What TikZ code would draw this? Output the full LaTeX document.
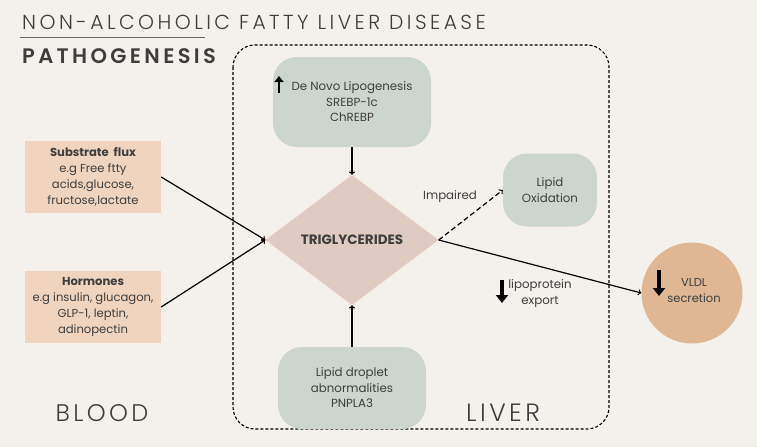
\documentclass[tikz,border=0pt]{standalone}
\usepackage{fontspec}
\setmainfont{Poppins}
\IfFontExistsTF{Poppins Light}{%
  \newfontfamily\titlefont[LetterSpace=17]{Poppins Light}%
  \newfontfamily\placefont[LetterSpace=14]{Poppins Light}}{%
  \newfontfamily\titlefont[LetterSpace=17]{Poppins}%
  \newfontfamily\placefont[LetterSpace=14]{Poppins}}
\newfontfamily\headfont[LetterSpace=16]{Poppins SemiBold}
\usepackage{tikz}
\usetikzlibrary{arrows,arrows.meta,shapes,positioning}
\definecolor{bgcream}{RGB}{244,240,235}
\definecolor{sagebox}{RGB}{205,214,206}
\definecolor{rosetri}{RGB}{223,203,194}
\definecolor{peachbox}{RGB}{240,212,190}
\definecolor{vldltan}{RGB}{224,183,148}
\definecolor{inkgray}{RGB}{62,62,62}
\tikzstyle{arrow} = [->,>=to,line width=1.2pt,color=black]
\tikzstyle{boldarrow} = [-{Triangle[length=8pt,width=12pt]},line width=3.2pt,color=black]
\tikzstyle{sagenode} = [rounded corners=24pt,fill=sagebox,align=center,inner sep=0pt,text=inkgray,font=\fontsize{11.8}{15.5}\selectfont]
\tikzstyle{peachnode} = [fill=peachbox,align=center,inner sep=0pt,minimum width=136pt,minimum height=72pt,text=inkgray,font=\fontsize{11.6}{16}\selectfont]

\begin{document}
\begin{tikzpicture}[x=1pt,y=-1pt]
% Background
\fill[bgcream] (0,0) rectangle (757,447);
\useasboundingbox (0,0) rectangle (757,447);

% Title
\node[anchor=base west, inner sep=0pt, text=inkgray, font=\titlefont\fontsize{20.3}{24}\selectfont] (title) at (22,29) {NON-ALCOHOLIC FATTY LIVER DISEASE};
\draw[inkgray!80, line width=1pt] (20,37) -- (205,37);
\node[anchor=base west, inner sep=0pt, text=inkgray, font=\headfont\fontsize{21}{24}\selectfont] (subtitle) at (22,63) {PATHOGENESIS};

% Liver compartment
\draw[dash pattern=on 3pt off 2pt, line width=1.1pt, rounded corners=22pt] (233,45) rectangle (609,429);

% Liver nodes
\node[sagenode, minimum width=158pt, minimum height=90pt] (dnl) at (352,102) {De Novo Lipogenesis\\SREBP-1c\\ChREBP};
\node[diamond, fill=rosetri, aspect=1.33, minimum width=173pt, minimum height=130pt, inner sep=0pt, text=inkgray, font=\bfseries\fontsize{13.5}{14}\selectfont] (tri) at (352,240) {TRIGLYCERIDES};
\node[sagenode, minimum width=148pt, minimum height=82pt] (droplet) at (352,388) {Lipid droplet\\abnormalities\\PNPLA3};
\node[sagenode, minimum width=94pt, minimum height=73pt] (lipox) at (550,190) {Lipid\\Oxidation};
\node[circle, fill=vldltan, minimum size=101pt, inner sep=0pt] (vldl) at (692,293) {};
\node[align=center, text=inkgray, font=\fontsize{11.5}{16}\selectfont] (vldltext) at (694,291) {VLDL\\secretion};

% Blood nodes
\node[peachnode] (substrate) at (93,177) {\textbf{Substrate\ \ flux}\\e.g Free ftty\\acids,glucose,\\fructose,lactate};
\node[peachnode] (hormones) at (93,307) {\textbf{Hormones}\\e.g insulin, glucagon,\\GLP-1, leptin,\\adinopectin};

% Labels
\node[text=inkgray, font=\fontsize{11.8}{14}\selectfont] (impaired) at (450,197) {Impaired};
\node[align=center, text=inkgray, font=\fontsize{11.8}{16}\selectfont] (export) at (540,294) {lipoprotein\\export};
\node[anchor=base, text=inkgray, font=\placefont\fontsize{24}{28}\selectfont] (blood) at (102,421) {BLOOD};
\node[anchor=base, text=inkgray, font=\placefont\fontsize{25}{28}\selectfont] (liver) at (503,421) {LIVER};

% Up / down markers
\draw[boldarrow, line width=2.6pt, -{Triangle[length=6pt,width=9pt]}] (279,93) -- (279,76);
\draw[boldarrow] (502,280) -- (502,303);
\draw[boldarrow] (659,270) -- (659,296);

% Connectors
\draw[arrow] (dnl) -- (tri);
\draw[arrow] (droplet) -- (tri);
\draw[arrow] (substrate.east) -- (tri.west);
\draw[arrow] (hormones.east) -- (tri.west);
\draw[arrow, dash pattern=on 5pt off 3pt] (tri.east) -- (lipox.west);
\draw[arrow] (tri.east) -- (vldl.west);
\end{tikzpicture}
\end{document}
